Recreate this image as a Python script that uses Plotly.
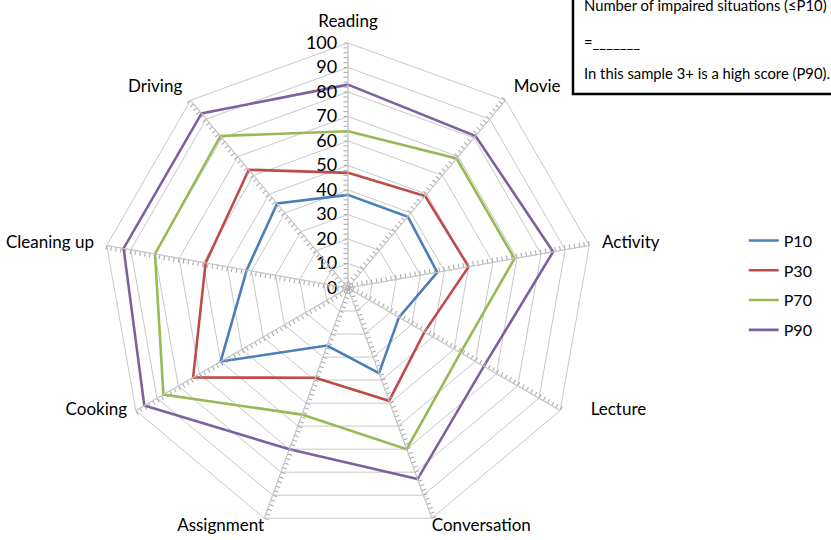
import plotly.graph_objects as go

categories = ["Reading", "Movie", "Activity", "Lecture", "Conversation",
              "Assignment", "Cooking", "Cleaning up", "Driving"]
series_names = ["P10", "P30", "P70", "P90"]
p10 = [38, 38, 37, 24, 37, 25, 60, 42, 45]
p30 = [47, 49, 50, 36, 49, 39, 73, 59, 63]
p70 = [64, 69, 69, 53, 70, 55, 87, 80, 81]
p90 = [83, 81, 85, 64, 83, 70, 96, 93, 93]
radial_ticks = list(range(0, 101, 10))
box_lines = ["Number of impaired situations (≤P10)", "=_______",
             "In this sample 3+ is a high score (P90)."]

colors = ["#4A7EBB", "#BE4B48", "#98B954", "#7D60A0"]
FONT = "Lato"
GRID = "#C8C8C8"
TICK = "#A6A6A6"

dom_x = [103 / 831, 593 / 831]
dom_y = [7 / 540, 497 / 540]

# some category labels are drawn as a text trace at the axis end
NBSP = "\u00a0"
end_labels = {"Lecture": "middle right", "Conversation": "bottom right",
              "Assignment": "bottom left", "Cooking": "middle left"}
end_pad = {"Lecture": (7, 0), "Cooking": (0, 2)}  # (leading, trailing) spaces
end_text = [NBSP * end_pad.get(c, (0, 0))[0] + c + NBSP * end_pad.get(c, (0, 0))[1]
            for c in end_labels]
tick_text = ["" if c in end_labels else c for c in categories]

fig = go.Figure()
for name, vals, col in zip(series_names, [p10, p30, p70, p90], colors):
    fig.add_trace(go.Scatterpolar(
        r=vals + vals[:1], theta=categories + categories[:1],
        mode="lines", name=name, legendgroup=name,
        line=dict(color=col, width=2.6), subplot="polar"))

fig.add_trace(go.Scatterpolar(
    r=[100] * len(end_labels), theta=list(end_labels.keys()),
    mode="text", text=end_text,
    textposition=list(end_labels.values()),
    textfont=dict(size=17, family=FONT, color="black"),
    cliponaxis=False, showlegend=False, hoverinfo="skip", subplot="polar"))

layout = dict(
    width=831, height=540,
    margin=dict(l=0, r=0, t=0, b=0),
    paper_bgcolor="white",
    font=dict(family=FONT, color="#000000"),
    showlegend=True,
    legend=dict(x=0.895, y=0.586, xanchor="left", yanchor="top",
                font=dict(size=16, family=FONT), tracegroupgap=6,
                bgcolor="rgba(0,0,0,0)"),
    polar=dict(
        domain=dict(x=dom_x, y=dom_y),
        gridshape="linear",
        bgcolor="white",
        angularaxis=dict(rotation=90, direction="clockwise", type="category",
                         categoryarray=categories, tickmode="array",
                         tickvals=categories, ticktext=tick_text,
                         showline=True,
                         linecolor=GRID, linewidth=1, gridcolor=GRID,
                         ticks="outside", ticklen=9,
                         tickcolor="rgba(0,0,0,0)",
                         tickfont=dict(size=17, family=FONT)),
        radialaxis=dict(range=[0, 100], tickvals=radial_ticks, angle=90,
                        side="counterclockwise", tickangle=90,
                        showline=False, gridcolor=GRID, ticks="outside",
                        ticklen=4, tickcolor="rgba(0,0,0,0)",
                        tickfont=dict(size=18, family=FONT)),
    ),
)

# extra overlay polars: minor tick marks along every spoke
spoke_angles = [90 - 40 * k for k in range(len(categories))]
for i, ang in enumerate(spoke_angles):
    key = f"polar{i + 2}"
    layout[key] = dict(
        domain=dict(x=dom_x, y=dom_y),
        bgcolor="rgba(0,0,0,0)",
        angularaxis=dict(visible=False),
        radialaxis=dict(range=[0, 100], angle=ang, dtick=2, tick0=0,
                        side="counterclockwise", showticklabels=False,
                        ticks="outside", ticklen=4, tickwidth=1,
                        tickcolor=TICK, showline=True, linecolor=GRID,
                        linewidth=1, showgrid=False),
    )
    fig.add_trace(go.Scatterpolar(r=[0], theta=[0], mode="markers",
                                  marker=dict(opacity=0), showlegend=False,
                                  hoverinfo="skip", subplot=key))

fig.update_layout(**layout)

fig.add_shape(type="rect", xref="paper", yref="paper",
              x0=573 / 831, x1=1.05, y0=(540 - 94) / 540, y1=1.1,
              line=dict(color="black", width=2.5), fillcolor="white", layer="above")
for txt, ypix in zip(box_lines, [5, 42, 73]):
    fig.add_annotation(text=txt, xref="paper", yref="paper",
                       x=582 / 831, y=(540 - ypix) / 540, xanchor="left",
                       yanchor="middle", showarrow=False,
                       font=dict(size=14.8, family=FONT, color="black"))

fig.write_html("out.html", config={"displayModeBar": False},
               post_script="document.body.style.margin='0';")
